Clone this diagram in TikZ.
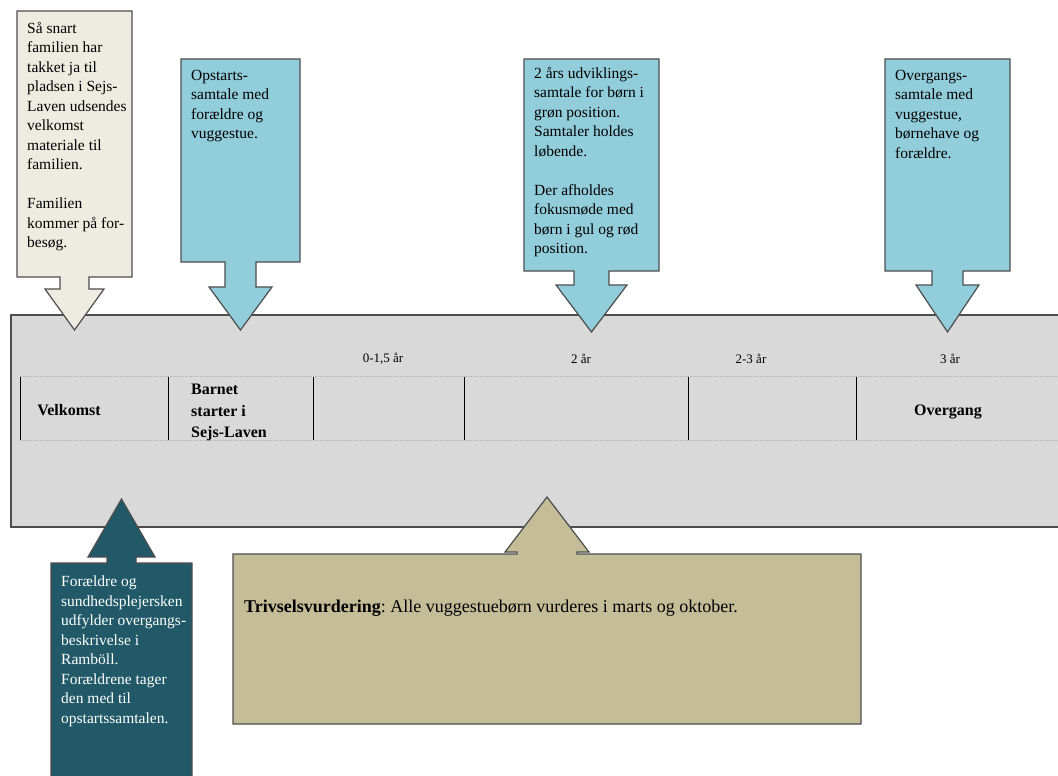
\documentclass[tikz,border=0pt]{standalone}
\usepackage{fontspec}
\setmainfont{Liberation Serif}
\usepackage{tikz}
\frenchspacing

\definecolor{cream}{HTML}{EEECE1}
\definecolor{skyblue}{HTML}{92CDDC}
\definecolor{bandgray}{HTML}{D9D9D9}
\definecolor{darkteal}{HTML}{215968}
\definecolor{khaki}{HTML}{C4BD97}
\definecolor{edgegray}{HTML}{4D4D4D}
\definecolor{dotgray}{HTML}{B8B8B8}

\begin{document}
\begin{tikzpicture}[x=1pt,y=-1pt]
 % Styles
\tikzset{
    shape edge/.style={draw=edgegray, line width=1.2pt, line join=miter},
    row line/.style={draw=dotgray, line width=0.8pt, dash pattern=on 1.5pt off 1pt},
    calltext/.style={anchor=north west, inner sep=0pt, align=left, font=\fontsize{15.5}{19.5}\selectfont},
    agelabel/.style={inner sep=0pt, font=\fontsize{13}{15}\selectfont},
    phase/.style={inner sep=0pt, font=\bfseries\fontsize{16}{21.5}\selectfont}
}
\useasboundingbox (0,0) rectangle (1058,776);

% Timeline band
\draw[shape edge, fill=bandgray] (11,315) rectangle (1075,527);
\draw[row line] (20,376.5) -- (1075,376.5);
\draw[row line] (20,440) -- (1075,440);
\foreach \x in {20,168,313,464,688,856}
    \draw[line width=0.8pt] (\x,376.5) -- (\x,440);

\node[agelabel] (age1) at (383,359) {0-1,5 år};
\node[agelabel] (age2) at (581,359) {2 år};
\node[agelabel] (age3) at (751,359) {2-3 år};
\node[agelabel] (age4) at (950,359) {3 år};

\node[phase, anchor=base] (welcome) at (69,415) {Velkomst};
\node[phase, anchor=north west, align=left] (start) at (191,384) {Barnet\\starter i\\Sejs-Laven};
\node[phase, anchor=base] (transition) at (948,415) {Overgang};

% Callouts above
\draw[shape edge, fill=cream] (17,11) -- (132,11) -- (132,277) -- (89,277) -- (89,289)
    -- (104,289) -- (74.5,330) -- (45,289) -- (60,289) -- (60,277) -- (17,277) -- cycle;
\draw[shape edge, fill=skyblue] (181,59) -- (300,59) -- (300,262) -- (256,262) -- (256,287)
    -- (272,287) -- (240.5,330) -- (209,287) -- (225,287) -- (225,262) -- (181,262) -- cycle;
\draw[shape edge, fill=skyblue] (524,59) -- (659,59) -- (659,271) -- (609,271) -- (609,285)
    -- (627,285) -- (591.5,332) -- (556,285) -- (574,285) -- (574,271) -- (524,271) -- cycle;
\draw[shape edge, fill=skyblue] (885,59) -- (1010,59) -- (1010,271) -- (963,271) -- (963,285)
    -- (979,285) -- (947.5,332) -- (916,285) -- (932,285) -- (932,271) -- (885,271) -- cycle;

% Callouts below
\draw[shape edge, fill=darkteal] (51,790) -- (51,563) -- (107,563) -- (107,557) -- (88,557)
    -- (121.5,499) -- (155,557) -- (136,557) -- (136,563) -- (192,563) -- (192,790) -- cycle;
\draw[shape edge, fill=khaki] (233,724) -- (233,554) -- (517,554) -- (517,552) -- (505,552)
    -- (547,497) -- (589,552) -- (577,552) -- (577,554) -- (861,554) -- (861,724) -- cycle;

% Texts
\node[calltext] (welcometext) at (27,22) {Så snart\\familien har\\takket ja til\\pladsen i Sejs-\\Laven udsendes\\velkomst\\materiale til\\familien.\\[19.5pt]Familien\\kommer på for-\\besøg.};
\node[calltext] (starttext) at (191,70) {Opstarts-\\samtale med\\forældre og\\vuggestue.};
\node[calltext] (twoyeartext) at (534,67) {2 års udviklings-\\samtale for børn i\\grøn position.\\Samtaler holdes\\løbende.\\[19.5pt]Der afholdes\\fokusmøde med\\børn i gul og rød\\position.};
\node[calltext] (transitiontext) at (895,70) {Overgangs-\\samtale med\\vuggestue,\\børnehave og\\forældre.};
\node[calltext, text=white] (healthtext) at (61,576) {Forældre og\\sundhedsplejersken\\udfylder overgangs-\\beskrivelse i\\Ramböll.\\Forældrene tager\\den med til\\opstartssamtalen.};
\node[anchor=base west, inner sep=0pt, font=\fontsize{18}{21}\selectfont] (wellbeing) at (244,612)
    {\textbf{Trivselsvurdering}: Alle vuggestuebørn vurderes i marts og oktober.};
\end{tikzpicture}
\end{document}
